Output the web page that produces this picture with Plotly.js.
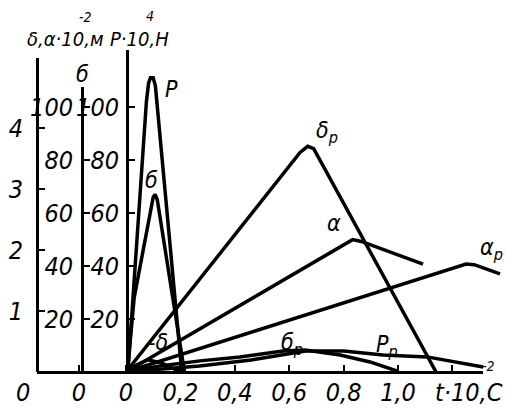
<!DOCTYPE html>
<html><head><meta charset="utf-8">
<script src="https://cdn.plot.ly/plotly-3.0.1.min.js"></script>
<style>html,body{margin:0;padding:0;background:#fff}#c{width:505px;height:408px}</style>
</head><body><div id="c"></div>
<script>
// time t·10^-2 s
const tP = [0, 0.007, 0.075, 0.083, 0.09, 0.1, 0.108, 0.205];
const vP = [0, 0, 102, 109, 111, 111, 108, 0];          // P·10^4 N
const tS = [0, 0.005, 0.03, 0.09, 0.1, 0.107, 0.115, 0.215];
const vS = [0, 0, 28, 62, 66, 67, 65, 0];              // б
const tD = [0, 0.04, 0.08, 0.13, 0.2];
const vD = [0, 0.12, 0.2, 0.15, 0];                    // δ
const tDp = [0, 0.64, 0.668, 0.69, 1.14];
const vDp = [0, 3.6, 3.7, 3.66, 0];                    // δp
const tA = [0, 0.80, 0.833, 0.865, 1.092];
const vA = [0, 2.08, 2.17, 2.14, 1.77];                // α
const tAp = [0, 1.22, 1.25, 1.28, 1.375];
const vAp = [0, 1.72, 1.77, 1.76, 1.61];               // αp
const tSp = [0, 0.125, 0.272, 0.419, 0.577, 0.658, 0.787, 0.897, 0.996];
const vSp = [0, 2.3, 4.2, 5.7, 7.9, 8.3, 6.4, 3.8, 0.4]; // бp
const tPp = [0, 0.27, 0.46, 0.66, 0.80, 0.945, 1.107, 1.217, 1.313];
const vPp = [0, 2.3, 4.5, 7.9, 7.9, 6.4, 5.7, 3.8, 1.9]; // Pp
const xTickVals = [-0.173, 0, 0.2, 0.4, 0.6, 0.8, 1.0, 1.2];
const xTickText = ["0", "0", "0,2", "0,4", "0,6", "0,8", "1,0", ""];
const dTicks = [1, 2, 3, 4];
const sTicks = [20, 40, 60, 80, 100];

const W = 505, H = 408;
const px = x => x / W, py = y => (H - y) / H;
const FF = "Liberation Sans Narrow, DejaVu Sans Condensed, Liberation Sans, sans-serif";
const tf = {family: FF, size: 25, color: "#000", style: "italic"};
const lf = {family: FF, size: 23, color: "#000", style: "italic"};
const hf = {family: FF, size: 20, color: "#000", style: "italic"};
const sf = {family: FF, size: 14, color: "#000", style: "italic"};
const line = {color: "#000", width: 3.5, shape: "linear"};
const it = s => s === "" ? "" : "<i>" + s + "</i>";

const tr = (x, y, ya) => ({x, y, xaxis: "x", yaxis: ya, mode: "lines", line, hoverinfo: "skip", showlegend: false});
const data = [
  tr(tP, vP, "y3"), tr(tS, vS, "y2"), tr(tD, vD, "y"),
  tr(tDp, vDp, "y"), tr(tA, vA, "y"), tr(tAp, vAp, "y"),
  tr(tSp, vSp, "y2"), tr(tPp, vPp, "y3"),
  {x: [null], y: [null], xaxis: "x2", yaxis: "y", mode: "lines", showlegend: false}
];

const base = 372, x0 = 126, kx = 272, kd = 61, ks = 2.65;
const yax = (xpix, topPix, k, ticks, standoff) => ({
  anchor: "free", position: px(xpix), side: "left",
  domain: [py(base), py(topPix)], range: [0, (base - topPix) / k],
  showline: true, linecolor: "#000", linewidth: 3,
  ticks: "inside", ticklen: 6, tickwidth: 2, tickcolor: "#000",
  tickvals: ticks, ticktext: ticks.map(v => it(String(v))), tickfont: tf,
  ticklabelstandoff: standoff, showgrid: false, zeroline: false, fixedrange: true
});

const ann = (text, x, y, font, xa, ya) => ({text, x: px(x), y: py(y), xref: "paper", yref: "paper",
  showarrow: false, font: font || lf, xanchor: xa || "center", yanchor: ya || "middle"});

const layout = {
  width: W, height: H, margin: {l: 0, r: 0, t: 0, b: 0},
  paper_bgcolor: "#fff", plot_bgcolor: "rgba(0,0,0,0)", showlegend: false,
  xaxis: {domain: [px(37), 1], range: [(37 - x0) / kx, (W - x0) / kx], visible: false, fixedrange: true},
  xaxis2: {domain: [px(37), px(483)], range: [(37 - x0) / kx, (483 - x0) / kx], anchor: "free", position: py(base),
    showline: true, linecolor: "#000", linewidth: 3, ticks: "inside", ticklen: 6, tickwidth: 2, tickcolor: "#000",
    tickvals: xTickVals, ticktext: xTickText.map(it), tickfont: tf, ticklabelstandoff: -3,
    showgrid: false, zeroline: false, fixedrange: true},
  yaxis: yax(37, 58, kd, dTicks, 8),
  yaxis2: yax(82, 87, ks, sTicks, 3),
  yaxis3: yax(127, 50, ks, sTicks, 2),
  annotations: [
    ann("<i>δ,α·10,м</i>", 25, 39, hf, "left"),
    ann("<i>-2</i>", 85, 17, sf),
    ann("<i>P·10,H</i>", 108, 39, hf, "left"),
    ann("<i>4</i>", 150, 16, sf),
    ann("<i>б</i>", 82, 74, lf),
    ann("<i>0</i>", 23, 392, tf),
    ann("<i>t·10,C</i>", 505, 392, tf, "right"),
    ann("<i>-2</i>", 488, 366, sf),
    ann("<i>P</i>", 171, 89, lf),
    ann("<i>б</i>", 151, 180, lf),
    ann("<i>-δ</i>", 158, 342, lf),
    ann("<i>δ<sub>p</sub></i>", 327, 132, lf),
    ann("<i>α</i>", 334, 223, lf),
    ann("<i>α<sub>p</sub></i>", 491, 249, lf),
    ann("<i>б<sub>p</sub></i>", 292, 344, lf),
    ann("<i>P<sub>p</sub></i>", 387, 346, lf)
  ]
};
Plotly.newPlot("c", data, layout, {staticPlot: true, displayModeBar: false});
</script></body></html>
